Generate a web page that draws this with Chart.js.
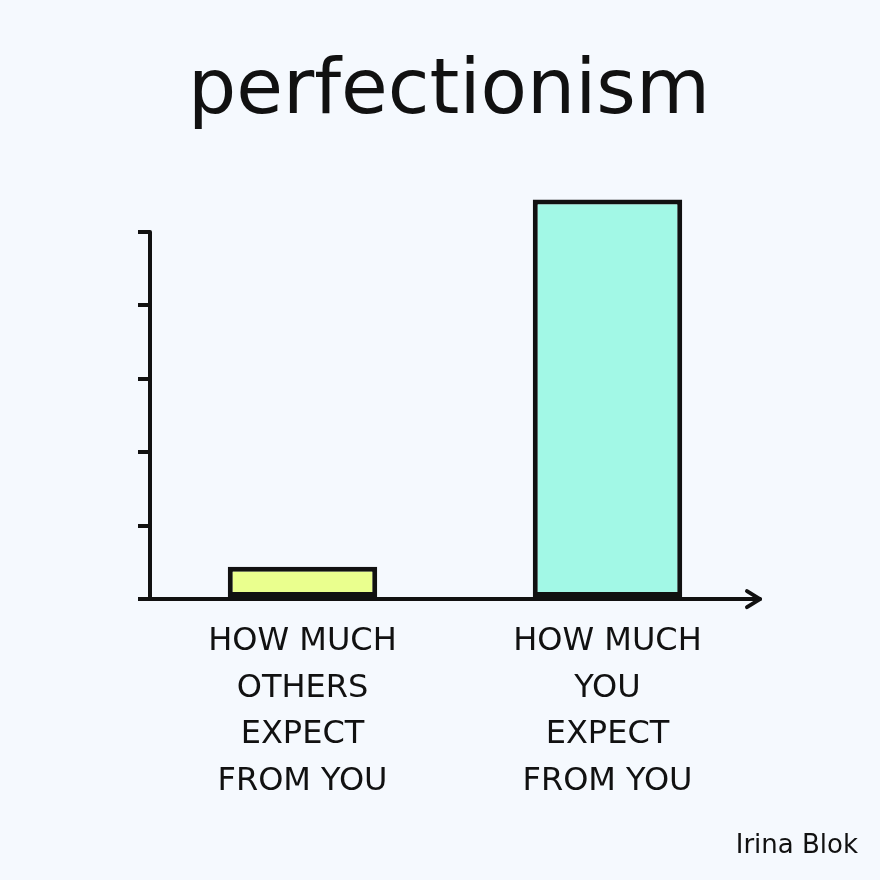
<!DOCTYPE html>
<html>
<head>
<meta charset="utf-8">
<script src="https://cdn.jsdelivr.net/npm/chart.js@4"></script>
<style>
  html, body { margin: 0; padding: 0; background: #f5f9fe; }
  #wrap { width: 880px; height: 880px; }
</style>
</head>
<body>
<div id="wrap"><canvas id="chart" width="880" height="880"></canvas></div>
<script>
const categories = [
   ['HOW MUCH', 'OTHERS', 'EXPECT', 'FROM YOU'],
   ['HOW MUCH', 'YOU', 'EXPECT', 'FROM YOU'],
];
const expectation = [0.44, 5.44];
const barColors = ['#eaff8e', '#a2f8e6'];
const yTicks = [0, 1, 2, 3, 4, 5];

const ink = '#111111';
const handFont = "'DejaVu Sans', sans-serif";

// axes drawn by hand: y axis stops at the top tick, x axis ends in an arrow
const handAxes = {
   id: 'handAxes',
   afterDatasetsDraw(chart) {
      const { ctx, chartArea, scales } = chart;
      const y0 = scales.y.getPixelForValue(0);
      const yTop = scales.y.getPixelForValue(yTicks[yTicks.length - 1]);
      const left = chartArea.left;
      const right = chartArea.right;
      ctx.save();
      ctx.strokeStyle = ink;
      ctx.lineWidth = 4;
      ctx.lineCap = 'round';
      ctx.lineJoin = 'round';
      ctx.beginPath();
      ctx.moveTo(left, yTop);
      ctx.lineTo(left, y0);
      ctx.lineTo(right, y0);
      ctx.stroke();
      ctx.beginPath();
      ctx.moveTo(right - 13, y0 - 8);
      ctx.lineTo(right, y0);
      ctx.lineTo(right - 13, y0 + 8);
      ctx.stroke();
      ctx.restore();
   },
   afterDraw(chart) {
      const { ctx } = chart;
      ctx.save();
      ctx.fillStyle = ink;
      ctx.font = `26px ${handFont}`;
      ctx.textAlign = 'right';
      ctx.textBaseline = 'middle';
      ctx.fillText('Irina Blok', 858, 846);
      ctx.restore();
   },
};

const ctx = document.getElementById('chart');
const chart = new Chart(ctx, {
   type: 'bar',
   data: {
      labels: categories,
      datasets: [
         {
            data: expectation,
            backgroundColor: barColors,
            borderColor: ink,
            borderWidth: 5,
            borderSkipped: false,
            categoryPercentage: 1,
            barPercentage: 0.49,
         },
      ],
   },
   options: {
      responsive: false,
      animation: false,
      layout: {
         padding: { top: 20, left: 138, right: 120, bottom: 56 },
      },
      plugins: {
         legend: { display: false },
         tooltip: { enabled: false },
         title: {
            display: true,
            text: 'perfectionism',
            color: ink,
            font: { family: handFont, size: 76, weight: 'normal', lineHeight: 1.2 },
            padding: { top: 28, bottom: 56 },
         },
      },
      scales: {
         x: {
            grid: { display: false, drawTicks: false },
            border: { display: false },
            ticks: {
               color: ink,
               padding: 19,
               maxRotation: 0,
               font: { family: handFont, size: 32, lineHeight: 1.46 },
            },
         },
         y: {
            min: 0,
            max: 5.5,
            afterBuildTicks: (axis) => {
               axis.ticks = yTicks.map((v) => ({ value: v }));
            },
            grid: {
               drawOnChartArea: false,
               drawTicks: true,
               tickLength: 12,
               color: ink,
               lineWidth: 4,
            },
            border: { display: false },
            ticks: { display: false },
         },
      },
   },
   plugins: [handAxes],
});
</script>
</body>
</html>
